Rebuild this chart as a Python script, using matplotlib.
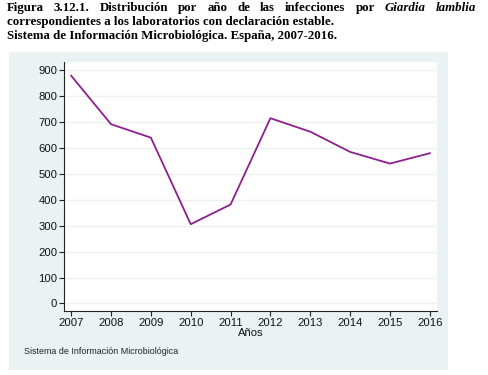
import matplotlib
matplotlib.use("Agg")
import matplotlib.pyplot as plt

years = [2007, 2008, 2009, 2010, 2011, 2012, 2013, 2014, 2015, 2016]
cases = [879, 692, 640, 306, 382, 715, 663, 585, 540, 580]
yticks = [0, 100, 200, 300, 400, 500, 600, 700, 800, 900]

title1_words = ["Figura", "3.12.1.", "Distribución", "por", "año", "de", "las", "infecciones", "por", "Giardia", "lamblia"]
title2 = "correspondientes a los laboratorios con declaración estable."
title3 = "Sistema de Información Microbiológica. España, 2007-2016."
xlabel = "Años"
source = "Sistema de Información Microbiológica"

W, H = 488, 375
fig = plt.figure(figsize=(W / 100, H / 100), dpi=100)
fig.patch.set_facecolor("white")

bg = "#eaf2f3"
panel = fig.add_axes([9 / W, 1 - 370 / H, (448 - 9) / W, (370 - 52) / H])
panel.set_facecolor(bg)
panel.set_xticks([]); panel.set_yticks([])
for s in panel.spines.values():
    s.set_visible(False)
panel.set_zorder(0)

ax = fig.add_axes([64 / W, 1 - 311 / H, (437 - 64) / W, (311 - 62) / H])
ax.set_zorder(1)
ax.set_facecolor("white")
ax.plot(years, cases, color="#8e1f8e", lw=1.3, zorder=3)
ax.set_xlim(2006.82, 2016.18)
ax.set_ylim(-29, 932)
ax.set_yticks(yticks)
ax.set_xticks(years)
ax.yaxis.grid(True, color=bg, lw=1.0, zorder=0)
ax.set_axisbelow(True)
for s in ["top", "right"]:
    ax.spines[s].set_visible(False)
for s in ["left", "bottom"]:
    ax.spines[s].set_color("#222222")
    ax.spines[s].set_linewidth(0.8)
ax.tick_params(axis="both", direction="out", length=3.3, width=0.8, color="#222222",
               labelsize=8.1, pad=1.5, labelcolor="#111111")
for lab in ax.get_xticklabels() + ax.get_yticklabels():
    lab.set_family("Liberation Sans")
ax.set_xlabel(xlabel, fontsize=8.1, family="Liberation Sans", color="#111111")
ax.xaxis.set_label_coords(0.5, -0.07)

fig.text(24 / W, 1 - 352 / H, source, fontsize=6.4, family="Liberation Sans",
         va="center", ha="left", color="#222222")

# title
tfs = 9.3
fig.canvas.draw()
renderer = fig.canvas.get_renderer()
texts = []
for w in title1_words:
    style = "italic" if w in ("Giardia", "lamblia") else "normal"
    t = fig.text(0, 1 - 11 / H, w, fontsize=tfs, family="Liberation Serif", weight="bold",
                 style=style, va="baseline", ha="left")
    texts.append(t)
widths = [t.get_window_extent(renderer).width for t in texts]
x0, x1 = 7, 476
gap = ((x1 - x0) - sum(widths)) / (len(texts) - 1)
x = x0
for t, wd in zip(texts, widths):
    t.set_x(x / W)
    x += wd + gap
fig.text(7 / W, 1 - 25 / H, title2, fontsize=tfs, family="Liberation Serif", weight="bold",
         va="baseline", ha="left")
fig.text(7 / W, 1 - 39.5 / H, title3, fontsize=tfs, family="Liberation Serif", weight="bold",
         va="baseline", ha="left")

fig.savefig("out.png", dpi=100, facecolor="white")
